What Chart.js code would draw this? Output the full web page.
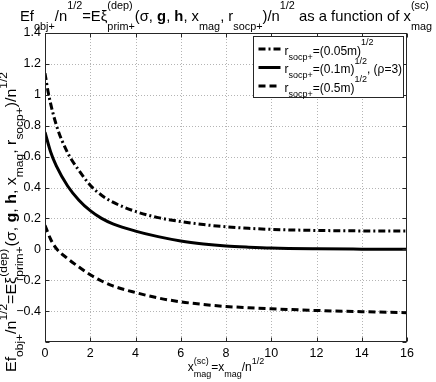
<!DOCTYPE html>
<html><head><meta charset="utf-8">
<script src="https://cdn.jsdelivr.net/npm/chart.js@4.4.1/dist/chart.umd.min.js"></script>
<style>html,body{margin:0;padding:0;background:#fff}#wrap{width:436px;height:382px;position:relative}</style>
</head><body><div id="wrap"><canvas id="c" width="436" height="382"></canvas></div>
<script>
// ---- data ----
const xTickValues = [0, 2, 4, 6, 8, 10, 12, 14, 16];
const yTickValues = [-0.6, -0.4, -0.2, 0, 0.2, 0.4, 0.6, 0.8, 1, 1.2, 1.4];

const x005 = [0, 0.15, 0.5, 1, 1.5, 2, 2.5, 3, 4, 5, 6, 7, 8, 9, 10, 12, 14, 16];
const y005 = [1.14, 1.01, 0.805, 0.625, 0.51, 0.415, 0.35, 0.305, 0.245, 0.205, 0.18, 0.16, 0.146, 0.136, 0.129, 0.122, 0.119, 0.118];

const x01 = [0, 0.25, 0.5, 1, 1.5, 2, 2.5, 3, 4, 5, 6, 7, 8, 9, 10, 12, 14, 16];
const y01 = [0.758, 0.63, 0.54, 0.41, 0.318, 0.25, 0.2, 0.165, 0.118, 0.082, 0.054, 0.035, 0.022, 0.014, 0.008, 0.003, 0.001, 0.0];

const x05 = [0, 0.25, 0.5, 1, 1.5, 2, 2.5, 3, 4, 5, 6, 7, 8, 9, 10, 12, 14, 16];
const y05 = [0.155, 0.065, 0.005, -0.06, -0.115, -0.165, -0.205, -0.237, -0.28, -0.315, -0.34, -0.357, -0.37, -0.378, -0.385, -0.396, -0.404, -0.41];

const seriesNames = ['r_socp+=(0.05m)^1/2', 'r_socp+=(0.1m)^1/2, (ρ=3)', 'r_socp+=(0.5m)^1/2'];

// rich text pieces (t = normal text, b = bold, sup/sub = scripts)
const titleParts = [
  {t:'Ef'},{sub:'obj+'},{t:'/n'},{sup:'1/2'},{t:'=Eξ'},{sup:'(dep)',sub:'prim+'},
  {t:'(σ, '},{t:'g',b:true},{t:', '},{t:'h',b:true},{t:', x'},{sub:'mag'},{t:', r'},{sub:'socp+'},
  {t:')/n'},{sup:'1/2'},{t:' as a function of x'},{sup:'(sc)',sub:'mag'}
];
const yLabelParts = [
  {t:'Ef'},{sub:'obj+'},{t:'/n'},{sup:'1/2'},{t:'=Eξ'},{sup:'(dep)',sub:'prim+'},
  {t:'(σ, '},{t:'g',b:true},{t:', '},{t:'h',b:true},{t:', x'},{sub:'mag'},{t:', r'},{sub:'socp+'},
  {t:')/n'},{sup:'1/2'}
];
const xLabelParts = [{t:'x'},{sup:'(sc)',sub:'mag'},{t:'=x'},{sub:'mag'},{t:'/n'},{sup:'1/2'}];
const legendParts = [
  [{t:'r'},{sub:'socp+'},{t:'=(0.05m)'},{sup:'1/2'}],
  [{t:'r'},{sub:'socp+'},{t:'=(0.1m)'},{sup:'1/2'},{t:', (ρ=3)'}],
  [{t:'r'},{sub:'socp+'},{t:'=(0.5m)'},{sup:'1/2'}]
];

const FAM = '"Liberation Sans", Arial, Helvetica, sans-serif';
function fnt(bold, size){ return (bold ? 'bold ' : '') + size + 'px ' + FAM; }
function richWidth(ctx, parts, st){
  let w = 0;
  for (const p of parts){
    if (p.t !== undefined){ ctx.font = fnt(p.b, st.base); w += ctx.measureText(p.t).width; }
    else { ctx.font = fnt(false, st.script);
      const a = p.sup ? ctx.measureText(p.sup).width : 0;
      const b = p.sub ? ctx.measureText(p.sub).width : 0;
      w += Math.max(a, b); }
  }
  return w;
}
function richDraw(ctx, parts, st){ // draws starting at (0,0) baseline
  let cx = 0;
  ctx.textBaseline = 'alphabetic'; ctx.textAlign = 'left';
  for (const p of parts){
    if (p.t !== undefined){ ctx.font = fnt(p.b, st.base); ctx.fillText(p.t, cx, 0); cx += ctx.measureText(p.t).width; }
    else { ctx.font = fnt(false, st.script);
      let a = 0, b = 0;
      if (p.sup){ ctx.fillText(p.sup, cx, -st.rise); a = ctx.measureText(p.sup).width; }
      if (p.sub){ ctx.fillText(p.sub, cx, st.drop); b = ctx.measureText(p.sub).width; }
      cx += Math.max(a, b); }
  }
}

const styles = [
  {color:'#000', width:3, dash:[7,3,2,3]},
  {color:'#000', width:3, dash:[]},
  {color:'#000', width:3, dash:[7,4]}
];

const decor = {
  id:'decor',
  beforeDatasetsDraw(chart){
    const {ctx, chartArea:a, scales:{x, y}} = chart;
    ctx.save();
    ctx.strokeStyle = '#b4b4b4'; ctx.lineWidth = 1; ctx.setLineDash([1,2]);
    for (const v of xTickValues){ if (v === x.min || v === x.max) continue;
      const px = Math.round(x.getPixelForValue(v)) + 0.5;
      ctx.beginPath(); ctx.moveTo(px, a.top); ctx.lineTo(px, a.bottom); ctx.stroke(); }
    for (const v of yTickValues){ if (Math.abs(v - y.min) < 1e-9 || Math.abs(v - y.max) < 1e-9) continue;
      const py = Math.round(y.getPixelForValue(v)) + 0.5;
      ctx.beginPath(); ctx.moveTo(a.left, py); ctx.lineTo(a.right, py); ctx.stroke(); }
    ctx.restore();
  },
  afterDatasetsDraw(chart){
    const {ctx, chartArea:a, scales:{x, y}} = chart;
    ctx.save();
    ctx.setLineDash([]);
    ctx.strokeStyle = '#262626'; ctx.lineWidth = 1;
    const L = Math.round(a.left) + 0.5, R = Math.round(a.right) - 0.5, T = Math.round(a.top) + 0.5, B = Math.round(a.bottom) - 0.5;
    ctx.strokeRect(L, T, R - L, B - T);
    const tl = 4;
    ctx.beginPath();
    for (const v of xTickValues){ const px = Math.round(x.getPixelForValue(v)) + 0.5;
      ctx.moveTo(px, B); ctx.lineTo(px, B - tl); ctx.moveTo(px, T); ctx.lineTo(px, T + tl); }
    for (const v of yTickValues){ const py = Math.round(y.getPixelForValue(v)) + 0.5;
      ctx.moveTo(L, py); ctx.lineTo(L + tl, py); ctx.moveTo(R, py); ctx.lineTo(R - tl, py); }
    ctx.stroke();

    // legend
    const lw = 150, lh = 61;
    const lx = Math.round(a.right) - 4 - lw + 0.5, ly = Math.round(a.top) + 4 - 0.5;
    ctx.fillStyle = '#fff'; ctx.fillRect(lx, ly, lw, lh);
    ctx.strokeStyle = '#262626'; ctx.strokeRect(lx, ly, lw, lh);
    const lst = {base:12, script:9, rise:9.5, drop:5};
    chart.data.datasets.forEach((ds, i) => {
      const cy = ly + 12.5 + i * 18.5;
      ctx.save();
      ctx.strokeStyle = ds.borderColor; ctx.lineWidth = ds.borderWidth; ctx.setLineDash(ds.borderDash || []);
      ctx.beginPath(); ctx.moveTo(lx + 5, cy); ctx.lineTo(lx + 27, cy); ctx.stroke();
      ctx.restore();
      ctx.save(); ctx.fillStyle = '#000'; ctx.translate(lx + 31, cy + 5.5);
      richDraw(ctx, legendParts[i], lst); ctx.restore();
    });

    // title
    ctx.fillStyle = '#000';
    const tst = {base:15, script:11, rise:11.5, drop:9};
    const tw = richWidth(ctx, titleParts, tst);
    const tTarget = 412, tsx = tTarget / tw;
    ctx.save(); ctx.translate((a.left + a.right) / 2 - tTarget / 2, 20.5); ctx.scale(tsx, 1);
    richDraw(ctx, titleParts, tst); ctx.restore();

    // x label
    const xst = {base:12, script:9, rise:7, drop:6};
    const xw = richWidth(ctx, xLabelParts, xst);
    ctx.save(); ctx.translate((a.left + a.right) / 2 - xw / 2, 371);
    richDraw(ctx, xLabelParts, xst); ctx.restore();

    // y label (rotated)
    const yst = {base:14, script:10.5, rise:8.5, drop:7.5};
    const yw = richWidth(ctx, yLabelParts, yst);
    const yTarget = 300;
    ctx.save(); ctx.translate(15.5, 372); ctx.rotate(-Math.PI / 2); ctx.scale(yTarget / yw, 1);
    richDraw(ctx, yLabelParts, yst); ctx.restore();
    ctx.restore();
  }
};

function mk(xs, ys){ return xs.map((v, i) => ({x: v, y: ys[i]})); }

new Chart(document.getElementById('c'), {
  type: 'line',
  data: {
    datasets: [
      {label: seriesNames[0], data: mk(x005, y005), borderColor: styles[0].color, borderWidth: styles[0].width, borderDash: styles[0].dash},
      {label: seriesNames[1], data: mk(x01, y01), borderColor: styles[1].color, borderWidth: styles[1].width, borderDash: styles[1].dash},
      {label: seriesNames[2], data: mk(x05, y05), borderColor: styles[2].color, borderWidth: styles[2].width, borderDash: styles[2].dash}
    ]
  },
  options: {
    responsive: false, animation: false, devicePixelRatio: 1,
    layout: {padding: {top: 33, right: 29, left: 0, bottom: 0}},
    elements: {point: {radius: 0}, line: {cubicInterpolationMode: 'monotone', fill: false, borderCapStyle: 'butt'}},
    plugins: {legend: {display: false}, tooltip: {enabled: false}, title: {display: false}},
    scales: {
      x: {type: 'linear', min: 0, max: 16,
        afterFit: s => { s.height = 40; },
        afterBuildTicks: s => { s.ticks = xTickValues.map(v => ({value: v})); },
        grid: {display: false, drawTicks: false}, border: {display: false},
        ticks: {color: '#000', font: {family: FAM, size: 12.5}, padding: 4, maxRotation: 0, autoSkip: false,
          callback: v => String(v)}},
      y: {type: 'linear', min: -0.6, max: 1.4,
        afterFit: s => { s.width = 45; },
        afterBuildTicks: s => { s.ticks = yTickValues.map(v => ({value: v})); },
        grid: {display: false, drawTicks: false}, border: {display: false},
        ticks: {color: '#000', font: {family: FAM, size: 12.5}, padding: 4, autoSkip: false,
          callback: v => { const r = Math.round(v * 10) / 10; if (Math.abs(r + 0.6) < 1e-9) return ''; return r < 0 ? '\u2212' + (-r) : String(r); }}}
    }
  },
  plugins: [decor]
});
</script>
</body></html>
